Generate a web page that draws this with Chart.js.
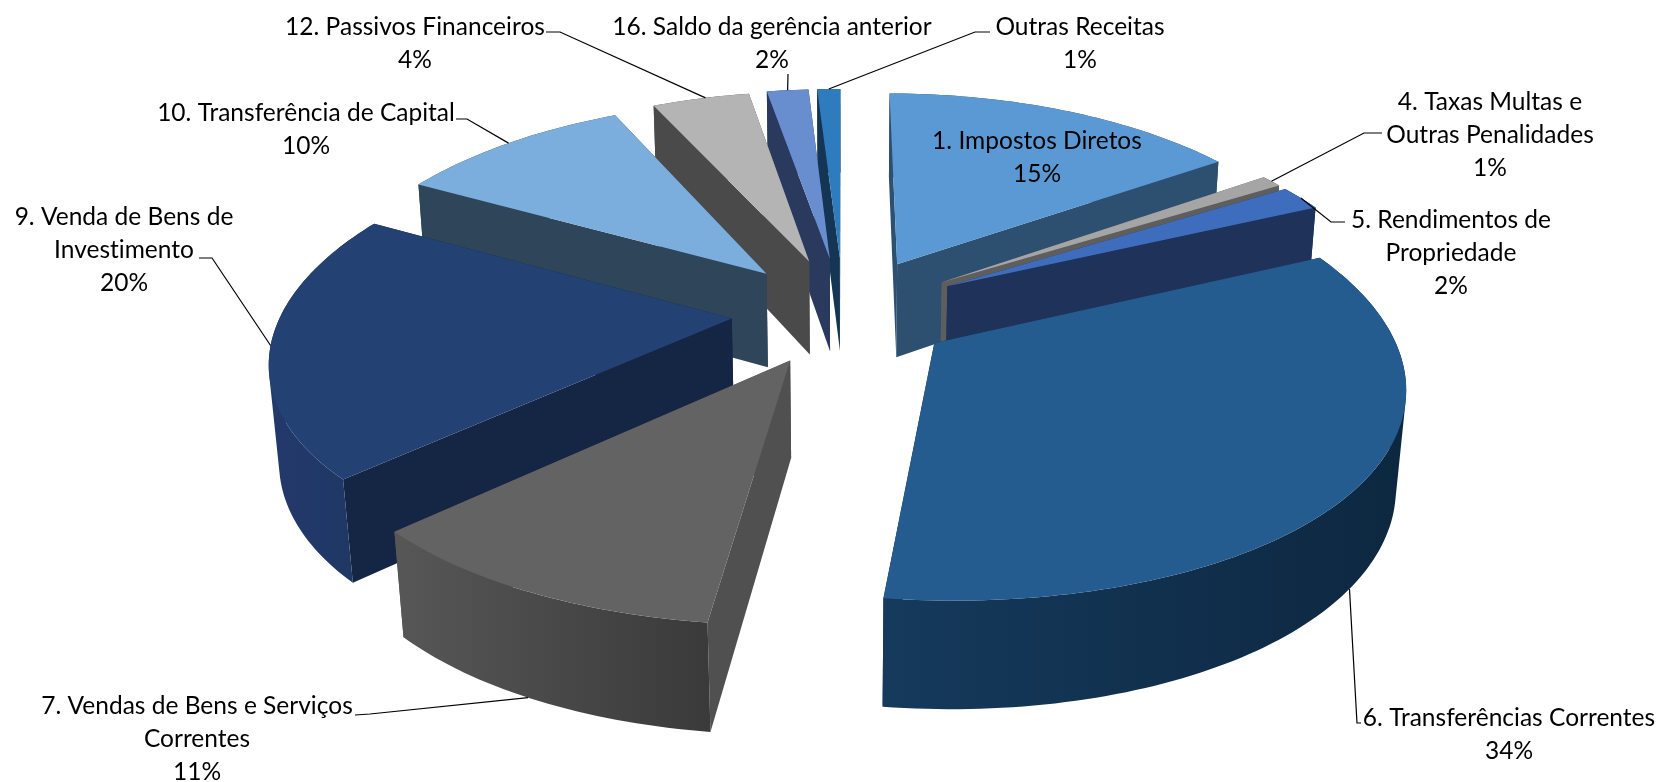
<!DOCTYPE html>
<html>
<head>
<meta charset="utf-8">
<title>Receitas</title>
<script src="https://cdn.jsdelivr.net/npm/chart.js@4"></script>
<style>
    html, body { margin: 0; padding: 0; background: #fff; }
    canvas { display: block; }
</style>
</head>
<body>
<canvas id="PieChart" width="1663" height="782"></canvas>

<script>
    // values (slice sizes estimated, the labels round them)
    var categories = ["1. Impostos Diretos", "4. Taxas Multas e Outras Penalidades", "5. Rendimentos de Propriedade",
        "6. Transferências Correntes", "7. Vendas de Bens e Serviços Correntes", "9. Venda de Bens de Investimento",
        "10. Transferência de Capital", "12. Passivos Financeiros", "16. Saldo da gerência anterior", "Outras Receitas"];
    var percents = [15.4, 0.9, 1.9, 33.8, 11, 20, 10, 4.2, 1.8, 1];

    // label text, broken the way the original breaks it
    var labelLines = [
        ["1. Impostos Diretos"],
        ["4. Taxas Multas e", "Outras Penalidades"],
        ["5. Rendimentos de", "Propriedade"],
        ["6. Transferências Correntes"],
        ["7. Vendas de Bens e Serviços", "Correntes"],
        ["9. Venda de Bens de", "Investimento"],
        ["10. Transferência de Capital"],
        ["12. Passivos Financeiros"],
        ["16. Saldo da gerência anterior"],
        ["Outras Receitas"]
    ];

    // styles
    var topColors = ["#5B99D4", "#A5A5A5", "#3F6DBE", "#255C90", "#636363", "#234173", "#7BAEDD", "#B4B4B4", "#698ED0", "#2E7BBE"];
    var sideColors = ["#2D4F70", "#5E5E5E", "#1F3259", "#0E2841", "#505050", "#152645", "#2F4559", "#4A4A4A", "#2A3A5E", "#143654"];
    var wallLeft = ["#2D4F70", "#5E5E5E", "#1F3259", "#153A5C", "#575757", "#22396B", "#2F4559", "#4A4A4A", "#2A3A5E", "#143654"];
    var wallRight = ["#2D4F70", "#5E5E5E", "#1F3259", "#0D2740", "#3A3A3A", "#1F3763", "#2F4559", "#4A4A4A", "#2A3A5E", "#143654"];
    var explode = [120, 120, 120, 110, 113, 112, 116, 118, 120, 120];

    // label layout: centre x, first line y, then the leader (text end, elbow, point on slice as arc fraction / depth fraction)
    var labelPos = [
        { x: 1037, y: 141 },
        { x: 1490, y: 102, from: [1382, 133], elbow: [1364, 133], on: [0.5, 0] },
        { x: 1451, y: 220, from: [1345, 222], elbow: [1331, 222], on: [0.5, 0] },
        { x: 1509, y: 718, from: [1361, 723], elbow: [1357, 723], on: [0.5, 1] },
        { x: 197, y: 706, from: [355, 715], elbow: [370, 714], on: [0.52, 1] },
        { x: 124, y: 217, from: [199, 258], elbow: [212, 258], on: [0.5, 0] },
        { x: 306, y: 113, from: [456, 119], elbow: [467, 119], on: [0.5, 0] },
        { x: 415, y: 27, from: [546, 32], elbow: [560, 32], on: [0.55, 0] },
        { x: 772, y: 27, from: [788, 74], elbow: [788, 74], on: [0.5, 0] },
        { x: 1080, y: 27, from: [990, 32], elbow: [975, 32], on: [0.5, 0] }
    ];
    var lineGap = 33;

    // fake 3d view of the pie plane
    var tilt = 0.465, perspX = 0.00038, perspY = 0.00033, zPersp = 0.00018, depth = 97;

    function project(arc, X, Y, z) {
        var wx = 1 / (1 - Y * perspX + z * zPersp);
        var wy = 1 / (1 - Y * perspY + z * zPersp);
        return [arc.x + X * wx, arc.y + (Y * tilt + z) * wy];
    }

    function slicePoint(arc, angle, r, z) {
        var mid = (arc.startAngle + arc.endAngle) / 2;
        var d = arc.options.offset;
        return project(arc, d * Math.cos(mid) + r * Math.cos(angle), d * Math.sin(mid) + r * Math.sin(angle), z);
    }

    function tracePoly(ctx, pts) {
        // same winding for every polygon, so overlaps in one path never cancel out
        var area = 0;
        pts.forEach(function (p, i) {
            var q = pts[(i + 1) % pts.length];
            area += p[0] * q[1] - q[0] * p[1];
        });
        var ordered = area < 0 ? pts.slice().reverse() : pts;
        ordered.forEach(function (p, i) { if (i) ctx.lineTo(p[0], p[1]); else ctx.moveTo(p[0], p[1]); });
        ctx.closePath();
    }

    function fillPoly(ctx, pts, fill) {
        ctx.beginPath();
        tracePoly(ctx, pts);
        ctx.fillStyle = fill;
        ctx.fill();
    }

    function drawSlice(ctx, arc, i) {
        var a0 = arc.startAngle, a1 = arc.endAngle, R = arc.outerRadius;
        var steps = Math.max(4, Math.ceil((a1 - a0) / 0.02));
        var top = [], bottom = [];
        for (var s = 0; s <= steps; s++) {
            var a = a0 + (a1 - a0) * s / steps;
            top.push(slicePoint(arc, a, R, 0));
            bottom.push(slicePoint(arc, a, R, depth));
        }
        var apex = slicePoint(arc, a0, 0, 0), apexLow = slicePoint(arc, a0, 0, depth);

        // the two flat cut faces
        fillPoly(ctx, [apex, top[0], bottom[0], apexLow], sideColors[i]);
        fillPoly(ctx, [apex, top[steps], bottom[steps], apexLow], sideColors[i]);

        // rounded outer wall, the top face hides whatever faces away
        var minX = Infinity, maxX = -Infinity;
        top.concat(bottom).forEach(function (p) { minX = Math.min(minX, p[0]); maxX = Math.max(maxX, p[0]); });
        var grad = ctx.createLinearGradient(minX, 0, maxX, 0);
        grad.addColorStop(0, wallLeft[i]);
        grad.addColorStop(1, wallRight[i]);
        ctx.beginPath();
        for (var k = 0; k < steps; k++) {
            tracePoly(ctx, [top[k], top[k + 1], bottom[k + 1], bottom[k]]);
        }
        ctx.fillStyle = grad;
        ctx.fill();

        // top face
        fillPoly(ctx, [apex].concat(top), topColors[i]);
    }

    class Pie3DController extends Chart.PieController {
        draw() {
            var ctx = this.chart.ctx;
            var arcs = this.getMeta().data;
            var order = arcs.map(function (arc, i) { return i; });
            function midY(i) { return Math.sin((arcs[i].startAngle + arcs[i].endAngle) / 2); }
            order.sort(function (p, q) { return midY(p) - midY(q); });
            order.forEach(function (i) { drawSlice(ctx, arcs[i], i); });
        }
    }
    Pie3DController.id = 'pie3d';
    Pie3DController.defaults = Chart.PieController.defaults;
    Pie3DController.overrides = Chart.PieController.overrides;
    Chart.register(Pie3DController);

    var labelPlugin = {
        id: 'sliceLabels',
        afterDatasetsDraw: function (chart) {
            var ctx = chart.ctx;
            var arcs = chart.getDatasetMeta(0).data;
            ctx.save();
            ctx.font = '24.5px Lato';
            ctx.letterSpacing = '0.01px';
            ctx.fillStyle = '#000';
            ctx.textAlign = 'center';
            ctx.textBaseline = 'middle';
            labelPos.forEach(function (pos, i) {
                var lines = labelLines[i].concat([Math.round(percents[i]) + '%']);
                lines.forEach(function (line, n) { ctx.fillText(line, pos.x, pos.y + n * lineGap); });
                if (!pos.on) return;
                var arc = arcs[i];
                var a = arc.startAngle + (arc.endAngle - arc.startAngle) * pos.on[0];
                var end = slicePoint(arc, a, arc.outerRadius, depth * pos.on[1]);
                ctx.beginPath();
                ctx.moveTo(pos.from[0], pos.from[1]);
                ctx.lineTo(pos.elbow[0], pos.elbow[1]);
                ctx.lineTo(end[0], end[1]);
                ctx.strokeStyle = '#000';
                ctx.lineWidth = 1.2;
                ctx.stroke();
            });
            ctx.restore();
        }
    };

    var ctxP = document.getElementById("PieChart").getContext('2d');
    var myPieChart = new Chart(ctxP, {
        type: 'pie3d',
        data: {
            labels: categories,
            datasets: [{
                data: percents,
                backgroundColor: topColors,
                offset: explode,
                borderWidth: 0
            }]
        },
        options: {
            responsive: false,
            animation: false,
            events: [],
            radius: 450,
            layout: { padding: { left: 24, right: 0, top: 0, bottom: 158 } },
            plugins: { legend: { display: false }, tooltip: { enabled: false } }
        },
        plugins: [labelPlugin]
    });
</script>
</body>
</html>
